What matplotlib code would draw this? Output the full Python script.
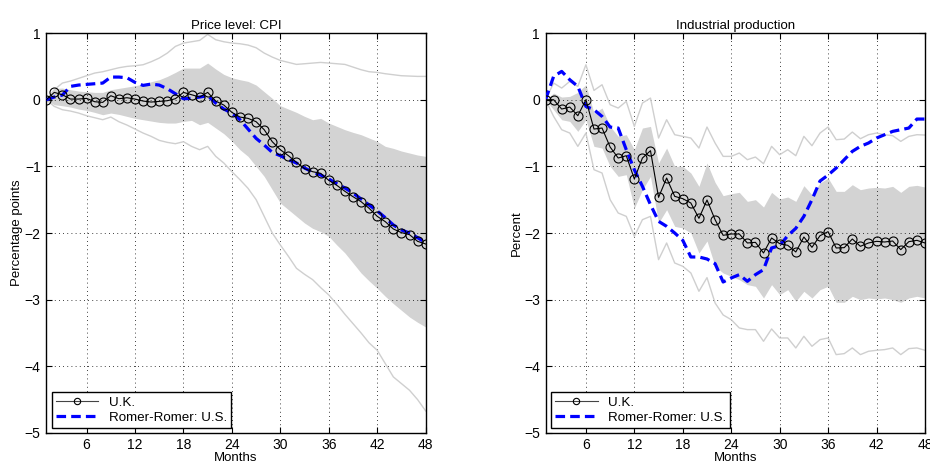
import numpy as np
import matplotlib.pyplot as plt

plt.rcParams["font.family"] = ["Liberation Sans", "DejaVu Sans"]

months = np.arange(1, 49)

# ---- Price level: CPI ----
cpi_uk = [0, 0.11, 0.075, 0.01, 0.01, 0.02, -0.03, -0.04, 0.06, 0.015,
          0.03, 0.01, -0.02, -0.035, -0.025, -0.015, 0.015, 0.11, 0.075, 0.04,
          0.11, -0.02, -0.08, -0.19, -0.26, -0.28, -0.33, -0.45, -0.63, -0.75,
          -0.84, -0.94, -1.035, -1.08, -1.105, -1.21, -1.285, -1.375, -1.455, -1.53,
          -1.63, -1.75, -1.83, -1.94, -1.995, -2.025, -2.125, -2.165]
cpi_us = [0, 0.04, 0.07, 0.2, 0.22, 0.23, 0.24, 0.25, 0.34, 0.34,
          0.33, 0.26, 0.215, 0.235, 0.22, 0.165, 0.09, 0.015, 0.02, 0.04,
          0.06, -0.05, -0.14, -0.2, -0.3, -0.44, -0.58, -0.68, -0.79, -0.84,
          -0.9, -0.95, -1.025, -1.085, -1.13, -1.19, -1.26, -1.325, -1.4, -1.49,
          -1.58, -1.67, -1.77, -1.88, -1.955, -2.0, -2.07, -2.145]
cpi_hi68 = [0, 0.17, 0.175, 0.15, 0.13, 0.12, 0.11, 0.11, 0.15, 0.17,
            0.19, 0.21, 0.235, 0.27, 0.3, 0.35, 0.41, 0.475, 0.475, 0.475,
            0.55, 0.46, 0.38, 0.33, 0.3, 0.275, 0.22, 0.12, 0.02, -0.09,
            -0.14, -0.19, -0.25, -0.3, -0.28, -0.35, -0.4, -0.45, -0.49, -0.525,
            -0.575, -0.625, -0.7, -0.73, -0.77, -0.8, -0.83, -0.85]
cpi_lo68 = [0, -0.075, -0.09, -0.11, -0.14, -0.16, -0.19, -0.225, -0.2, -0.22,
            -0.25, -0.28, -0.3, -0.32, -0.34, -0.35, -0.35, -0.325, -0.31, -0.375,
            -0.34, -0.425, -0.51, -0.62, -0.75, -0.85, -1.0, -1.15, -1.35, -1.55,
            -1.65, -1.75, -1.85, -1.93, -1.98, -2.05, -2.18, -2.3, -2.45, -2.6,
            -2.72, -2.83, -2.95, -3.06, -3.16, -3.26, -3.34, -3.41]
cpi_hi90 = [0, 0.15, 0.25, 0.28, 0.32, 0.36, 0.4, 0.42, 0.45, 0.48,
            0.5, 0.51, 0.525, 0.57, 0.625, 0.7, 0.8, 0.85, 0.87, 0.89,
            0.98, 0.9, 0.87, 0.85, 0.84, 0.82, 0.78, 0.7, 0.64, 0.59,
            0.56, 0.53, 0.54, 0.55, 0.56, 0.55, 0.54, 0.53, 0.49, 0.45,
            0.42, 0.41, 0.39, 0.375, 0.36, 0.355, 0.35, 0.35]
cpi_lo90 = [0, -0.1, -0.15, -0.17, -0.2, -0.24, -0.27, -0.3, -0.26, -0.33,
            -0.38, -0.44, -0.5, -0.55, -0.61, -0.64, -0.66, -0.63, -0.7, -0.75,
            -0.7, -0.85, -0.95, -1.08, -1.2, -1.33, -1.5, -1.75, -2.0, -2.18,
            -2.35, -2.53, -2.62, -2.7, -2.82, -2.93, -3.07, -3.22, -3.36, -3.5,
            -3.65, -3.76, -3.96, -4.16, -4.26, -4.36, -4.5, -4.67]

# ---- Industrial production ----
ip_uk = [0, 0, -0.14, -0.11, -0.24, 0, -0.44, -0.425, -0.71, -0.875,
         -0.84, -1.19, -0.875, -0.765, -1.465, -1.175, -1.45, -1.485, -1.55, -1.78,
         -1.505, -1.8, -2.035, -2.015, -2.015, -2.15, -2.14, -2.3, -2.075, -2.16,
         -2.185, -2.285, -2.06, -2.215, -2.04, -1.98, -2.225, -2.22, -2.09, -2.2,
         -2.15, -2.125, -2.135, -2.12, -2.25, -2.13, -2.11, -2.15]
ip_us = [0, 0.35, 0.425, 0.3, 0.2, -0.1, -0.15, -0.25, -0.41, -0.425,
         -0.75, -1.05, -1.3, -1.575, -1.825, -1.9, -2.0, -2.11, -2.36, -2.36,
         -2.39, -2.46, -2.735, -2.675, -2.625, -2.725, -2.625, -2.55, -2.225, -2.19,
         -2.04, -1.93, -1.75, -1.5, -1.22, -1.13, -1.025, -0.9, -0.775, -0.7,
         -0.65, -0.575, -0.525, -0.475, -0.45, -0.425, -0.29, -0.29]
ip_hi68 = [0, 0.1, 0.04, 0.05, 0.11, 0.225, -0.2, -0.125, -0.4, -0.55,
           -0.525, -0.75, -0.425, -0.4, -0.95, -0.725, -1.0, -1.0, -1.1, -1.3,
           -0.95, -1.24, -1.44, -1.41, -1.39, -1.525, -1.5, -1.61, -1.39, -1.49,
           -1.46, -1.525, -1.29, -1.425, -1.25, -1.175, -1.375, -1.375, -1.275, -1.35,
           -1.325, -1.315, -1.325, -1.3, -1.39, -1.3, -1.285, -1.31]
ip_lo68 = [0, -0.15, -0.3, -0.325, -0.475, -0.3, -0.7, -0.725, -1.0, -1.15,
           -1.125, -1.625, -1.35, -1.15, -1.85, -1.65, -1.9, -1.925, -2.0, -2.3,
           -2.12, -2.5, -2.6, -2.65, -2.7, -2.775, -2.8, -2.975, -2.775, -2.925,
           -2.85, -3.025, -2.875, -2.975, -2.85, -2.8, -3.04, -3.04, -2.95, -3.0,
           -2.975, -2.99, -2.975, -3.0, -3.04, -2.975, -2.95, -2.975]
ip_hi90 = [0, 0.25, 0.175, 0.275, 0.2, 0.525, 0.14, 0.225, -0.075, -0.125,
           -0.025, -0.4, -0.05, 0.025, -0.575, -0.3, -0.525, -0.55, -0.575, -0.725,
           -0.41, -0.65, -0.85, -0.85, -0.8, -0.9, -0.86, -0.96, -0.7, -0.825,
           -0.75, -0.84, -0.55, -0.69, -0.5, -0.41, -0.6, -0.59, -0.485, -0.585,
           -0.525, -0.5, -0.525, -0.54, -0.625, -0.55, -0.525, -0.53]
ip_lo90 = [0, -0.25, -0.45, -0.5, -0.7, -0.5, -1.05, -1.1, -1.5, -1.7,
           -1.75, -2.05, -1.8, -1.75, -2.4, -2.15, -2.45, -2.5, -2.6, -2.875,
           -2.67, -3.05, -3.23, -3.3, -3.425, -3.45, -3.45, -3.625, -3.44, -3.575,
           -3.575, -3.725, -3.55, -3.7, -3.6, -3.575, -3.825, -3.81, -3.725, -3.825,
           -3.775, -3.76, -3.75, -3.725, -3.825, -3.735, -3.725, -3.76]

panels = [
    ("Price level: CPI", "Percentage points", cpi_uk, cpi_us, cpi_lo68, cpi_hi68, cpi_lo90, cpi_hi90),
    ("Industrial production", "Percent", ip_uk, ip_us, ip_lo68, ip_hi68, ip_lo90, ip_hi90),
]

fig = plt.figure(figsize=(9.3, 4.66), dpi=100)
lefts = [0.0497, 0.5866]

for left, (title, ylab, uk, us, lo68, hi68, lo90, hi90) in zip(lefts, panels):
    ax = fig.add_axes([left, 0.071, 0.408, 0.858])
    ax.fill_between(months, lo68, hi68, color="#d3d3d3", linewidth=0, zorder=1)
    ax.plot(months, hi90, color="#cfcfcf", lw=1, zorder=2)
    ax.plot(months, lo90, color="#cfcfcf", lw=1, zorder=2)
    ax.plot(months, uk, color="black", lw=0.8, marker="o", ms=6.5,
            mfc="none", mec="black", mew=0.8, label="U.K.", zorder=4)
    ax.plot(months, us, color="blue", lw=2.3, ls=(0, (3, 1.6)),
            label="Romer-Romer: U.S.", zorder=3)
    ax.set_xlim(1, 48)
    ax.set_ylim(-5, 1)
    ax.set_xticks(range(6, 49, 6))
    ax.set_yticks(range(-5, 2))
    ax.grid(True, color="black", ls=(0, (1, 4)), lw=0.6)
    ax.tick_params(direction="in", top=True, right=True, labelsize=10, length=4, pad=4)
    ax.set_title(title, fontsize=9.5, pad=3)
    ax.set_ylabel(ylab, fontsize=9.5, labelpad=1)
    ax.set_xlabel("Months", fontsize=9.5, labelpad=0)
    for s in ax.spines.values():
        s.set_linewidth(1.0)
    leg = ax.legend(loc="lower left", fontsize=9.6, fancybox=False, framealpha=1,
                    edgecolor="black", borderaxespad=0.4, handlelength=3.2,
                    labelspacing=0.2, borderpad=0.3, markerscale=0.7)
    leg.get_frame().set_linewidth(1.0)
    leg.legend_handles[0].set_color("#444444")

fig.savefig("out.png", dpi=100)
